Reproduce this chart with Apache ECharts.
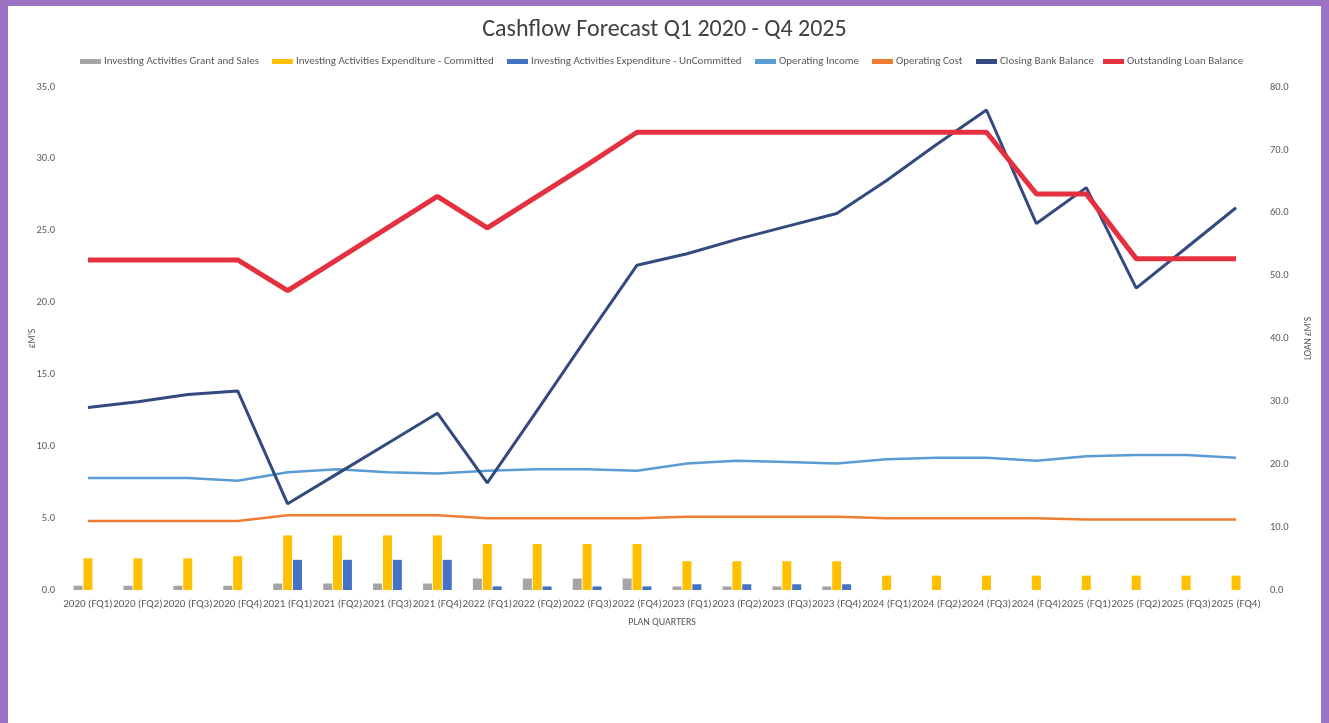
<!DOCTYPE html>
<html>
<head>
<meta charset="utf-8">
<script src="https://cdn.jsdelivr.net/npm/echarts@6/dist/echarts.min.js"></script>
<style>
html,body{margin:0;padding:0;background:#fff;}
#chart{width:1329px;height:723px;}
</style>
</head>
<body>
<div id="chart"></div>
<script>
var categories = ["2020 (FQ1)","2020 (FQ2)","2020 (FQ3)","2020 (FQ4)",
  "2021 (FQ1)","2021 (FQ2)","2021 (FQ3)","2021 (FQ4)",
  "2022 (FQ1)","2022 (FQ2)","2022 (FQ3)","2022 (FQ4)",
  "2023 (FQ1)","2023 (FQ2)","2023 (FQ3)","2023 (FQ4)",
  "2024 (FQ1)","2024 (FQ2)","2024 (FQ3)","2024 (FQ4)",
  "2025 (FQ1)","2025 (FQ2)","2025 (FQ3)","2025 (FQ4)"];

var grantSales = [0.3,0.3,0.3,0.3, 0.45,0.45,0.45,0.45, 0.8,0.8,0.8,0.8, 0.25,0.25,0.25,0.25, 0,0,0,0, 0,0,0,0];
var expCommitted = [2.2,2.2,2.2,2.35, 3.8,3.8,3.8,3.8, 3.2,3.2,3.2,3.2, 2.0,2.0,2.0,2.0, 1.0,1.0,1.0,1.0, 1.0,1.0,1.0,1.0];
var expUncommitted = [0,0,0,0, 2.1,2.1,2.1,2.1, 0.25,0.25,0.25,0.25, 0.4,0.4,0.4,0.4, 0,0,0,0, 0,0,0,0];
var operatingIncome = [7.8,7.8,7.8,7.6, 8.2,8.4,8.2,8.1, 8.3,8.4,8.4,8.3, 8.8,9.0,8.9,8.8, 9.1,9.2,9.2,9.0, 9.3,9.4,9.4,9.2];
var operatingCost = [4.8,4.8,4.8,4.8, 5.2,5.2,5.2,5.2, 5.0,5.0,5.0,5.0, 5.1,5.1,5.1,5.1, 5.0,5.0,5.0,5.0, 4.9,4.9,4.9,4.9];
var closingBank = [12.7,13.1,13.6,13.85, 6.0,8.1,10.2,12.3, 7.45,12.5,17.6,22.6, 23.4,24.4,25.3,26.2, 28.5,31.0,33.4,25.5, 28.0,21.0,23.8,26.6];
var loanBalance = [52.5,52.5,52.5,52.5, 47.6,52.6,57.6,62.6, 57.6,62.6,67.6,72.8, 72.8,72.8,72.8,72.8, 72.8,72.8,72.8,63.0, 63.0,52.7,52.7,52.7];

var leftTicks = {min:0, max:35, interval:5};
var rightTicks = {min:0, max:80, interval:10};

var FONT = 'Carlito, "Liberation Sans", Arial, sans-serif';
var txt = '#595959';

var names = ["Investing Activities Grant and Sales","Investing Activities Expenditure - Committed",
  "Investing Activities Expenditure - UnCommitted","Operating Income","Operating Cost",
  "Closing Bank Balance","Outstanding Loan Balance"];
var colors = ['#A5A5A5','#FFC000','#4472C4','#5B9BD5','#ED7D31','#34497F','#E5303F'];
var legendLeft = [80,272,507,755,872,976,1103];

var legends = names.map(function(n,i){
  return {
    data:[n], left: legendLeft[i], top: 56, padding:0, itemWidth: 21, itemHeight: 5, itemGap: 0,
    textStyle:{fontSize:11, color:txt, fontFamily:FONT, padding:[0,0,0,-2]},
    icon: 'rect'
  };
});

var chart = echarts.init(document.getElementById('chart'), null, {renderer:'canvas'});
var barW = 9;
chart.setOption({
  animation:false,
  backgroundColor:'#ffffff',
  color: colors,
  title:{text:'Cashflow Forecast Q1 2020 - Q4 2025', left:'center', top:13,
    textStyle:{fontSize:24, fontWeight:'normal', color:'#404040', fontFamily:FONT}},
  legend: legends,
  graphic:[
    {type:'rect', left:0, top:0, shape:{width:8, height:723}, style:{fill:'#9B72C4'}},
    {type:'rect', left:0, top:0, shape:{width:1329, height:6}, style:{fill:'#9B72C4'}},
    {type:'rect', right:0, top:0, shape:{width:8, height:723}, style:{fill:'#9B72C4'}}
  ],
  grid:{left:63, right:68, top:87, bottom:133, containLabel:false},
  xAxis:{type:'category', data:categories, boundaryGap:true,
    axisLine:{show:false}, axisTick:{show:false},
    axisLabel:{interval:0, fontSize:11, color:txt, fontFamily:FONT, margin:9},
    name:'PLAN QUARTERS', nameLocation:'middle', nameGap:27,
    nameTextStyle:{fontSize:10, color:txt, fontFamily:FONT}},
  yAxis:[
    {type:'value', min:leftTicks.min, max:leftTicks.max, interval:leftTicks.interval,
     splitLine:{show:false}, axisLine:{show:false}, axisTick:{show:false},
     axisLabel:{fontSize:10.5, color:txt, fontFamily:FONT, margin:8, formatter:function(v){return v.toFixed(1);}},
     name:"£M'S", nameLocation:'middle', nameGap:25, nameRotate:90, nameMoveOverlap:false,
     nameTextStyle:{fontSize:9.5, color:txt, fontFamily:FONT}},
    {type:'value', min:rightTicks.min, max:rightTicks.max, interval:rightTicks.interval,
     splitLine:{show:false}, axisLine:{show:false}, axisTick:{show:false},
     axisLabel:{fontSize:10.5, color:txt, fontFamily:FONT, margin:9, formatter:function(v){return v.toFixed(1);}},
     name:"LOAN £M'S", nameLocation:'middle', nameGap:43, nameRotate:90,
     nameTextStyle:{fontSize:9.5, color:txt, fontFamily:FONT}}
  ],
  series:[
    {name:names[0], type:'bar', data:grantSales, barWidth:barW, barGap:'10%', yAxisIndex:0, itemStyle:{color:colors[0]}},
    {name:names[1], type:'bar', data:expCommitted, barWidth:barW, barGap:'10%', yAxisIndex:0, itemStyle:{color:colors[1]}},
    {name:names[2], type:'bar', data:expUncommitted, barWidth:barW, barGap:'10%', yAxisIndex:0, itemStyle:{color:colors[2]}},
    {name:names[3], type:'line', data:operatingIncome, yAxisIndex:0, showSymbol:false, symbol:'none', lineStyle:{width:2.5, color:colors[3]}, itemStyle:{color:colors[3]}},
    {name:names[4], type:'line', data:operatingCost, yAxisIndex:0, showSymbol:false, symbol:'none', lineStyle:{width:2.5, color:colors[4]}, itemStyle:{color:colors[4]}},
    {name:names[5], type:'line', data:closingBank, yAxisIndex:0, showSymbol:false, symbol:'none', lineStyle:{width:3, color:colors[5]}, itemStyle:{color:colors[5]}},
    {name:names[6], type:'line', data:loanBalance, yAxisIndex:1, showSymbol:false, symbol:'none', lineStyle:{width:5, color:colors[6]}, itemStyle:{color:colors[6]}}
  ]
});
</script>
</body>
</html>
